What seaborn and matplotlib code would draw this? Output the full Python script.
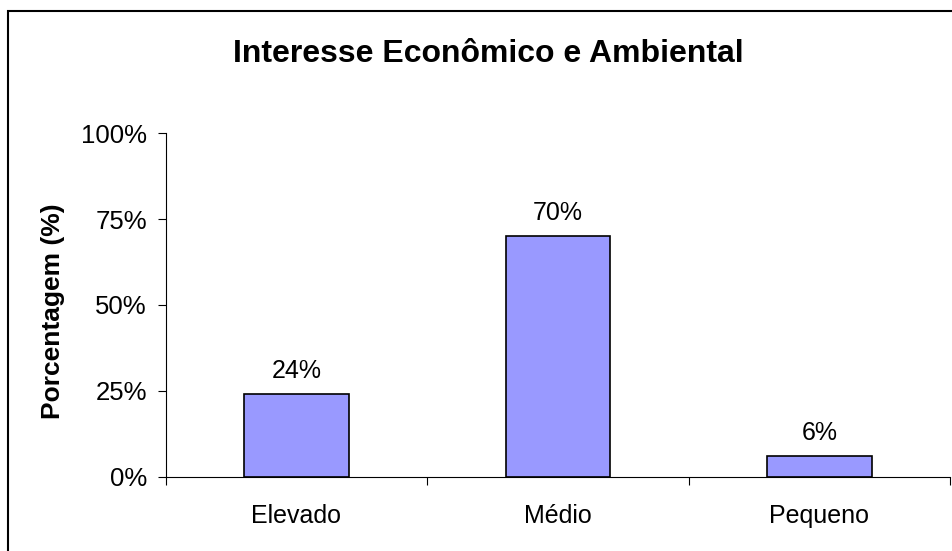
import matplotlib
matplotlib.use("Agg")
import matplotlib.pyplot as plt
from matplotlib.patches import Rectangle
from matplotlib.ticker import FixedLocator
import seaborn as sns
import pandas as pd

categories = ["Elevado", "Médio", "Pequeno"]
values = [24, 70, 6]
ytick_values = [0, 25, 50, 75, 100]
ytick_labels = ["0%", "25%", "50%", "75%", "100%"]
title = "Interesse Econômico e Ambiental"
ylabel = "Porcentagem (%)"

sns.set_style("white")
plt.rcParams["font.family"] = ["Liberation Sans", "DejaVu Sans"]
plt.rcParams["text.color"] = "black"
plt.rcParams["xtick.color"] = "black"
plt.rcParams["ytick.color"] = "black"
plt.rcParams["axes.labelcolor"] = "black"

W, H = 953, 551
fig = plt.figure(figsize=(W / 100, H / 100), dpi=100)
ax = fig.add_axes([165.7 / W, 1 - 476.7 / H, (950 - 165.7) / W, (476.7 - 133.3) / H])

df = pd.DataFrame({"cat": categories, "val": values})
sns.barplot(data=df, x="cat", y="val", color="#9999FF", saturation=1,
            edgecolor="black", linewidth=1.2, width=0.40, ax=ax)

ax.set_xlim(-0.5, len(categories) - 0.5)
ax.set_ylim(0, 100)
ax.set_yticks(ytick_values)
ax.set_yticklabels(ytick_labels, fontsize=18.5)
ax.tick_params(axis="y", direction="out", length=5.5, width=0.8, pad=8, color="black",
               labelcolor="black", left=True)
ax.tick_params(axis="x", which="major", length=0, pad=20, labelsize=18,
               labelcolor="black", bottom=True)
ax.xaxis.set_minor_locator(FixedLocator([i - 0.5 for i in range(len(categories) + 1)]))
ax.tick_params(axis="x", which="minor", direction="out", length=6, width=0.8, color="black", bottom=True)

ax.set_xlabel("")
ax.set_ylabel("")
for s in ["top", "right"]:
    ax.spines[s].set_visible(False)
for s in ["left", "bottom"]:
    ax.spines[s].set_visible(True)
    ax.spines[s].set_color("black")
    ax.spines[s].set_linewidth(0.8)

for i, v in enumerate(values):
    ax.annotate(f"{v}%", xy=(i, v), xytext=(0, 8), textcoords="offset points",
                ha="center", va="bottom", fontsize=18, color="black")

fig.text(488 / W, 1 - 54 / H, title, ha="center", va="center", fontsize=23,
         fontweight="bold", color="black")
fig.text(53 / W, 1 - 311 / H, ylabel, ha="center", va="center", rotation=90,
         fontsize=19, fontweight="bold", color="black")

fig.patches.append(Rectangle((8.3 / W, -0.1), 1.2, 1 - 11 / H + 0.1, transform=fig.transFigure,
                             fill=False, linewidth=1.5, edgecolor="black", zorder=10))

fig.savefig("out.png", dpi=100)
